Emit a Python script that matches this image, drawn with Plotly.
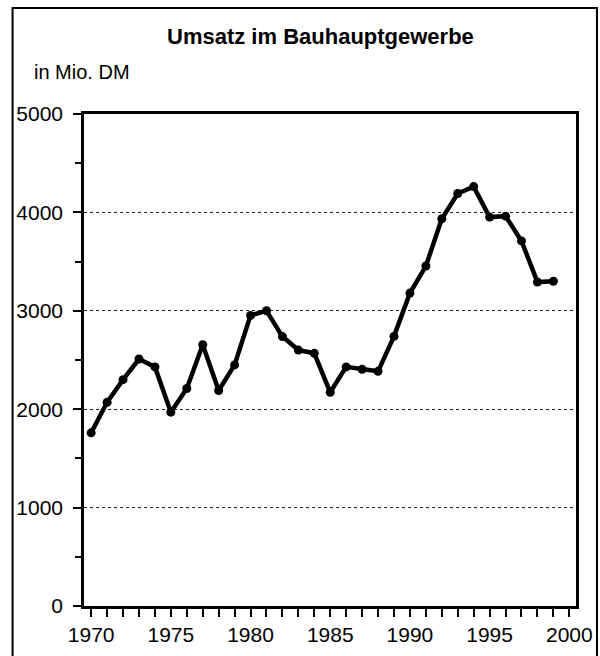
import plotly.graph_objects as go

years = list(range(1970, 2000))
umsatz = [1760, 2070, 2300, 2510, 2430, 1970, 2210, 2655, 2190, 2450,
          2953, 3000, 2738, 2601, 2568, 2172, 2430, 2405, 2385, 2740,
          3180, 3455, 3935, 4192, 4262, 3952, 3962, 3710, 3292, 3300]

title_text = "Umsatz im Bauhauptgewerbe"
unit_text = "in Mio. DM"
FONT = "Liberation Sans, Arial, sans-serif"

W, H = 600, 656
L, R, T, B = 83.5, 24, 114, 50
pw, ph = W - L - R, H - T - B

def px(xp):
    return (xp - L) / pw

def py(yp):
    return (H - B - yp) / ph

fig = go.Figure()
fig.add_trace(go.Scatter(
    x=years, y=umsatz, mode="lines+markers",
    line=dict(color="black", width=4.5),
    marker=dict(color="black", size=9),
    showlegend=False, hoverinfo="x+y",
))

fig.update_layout(
    width=W, height=H,
    margin=dict(l=L, r=R, t=T, b=B, autoexpand=False),
    paper_bgcolor="white", plot_bgcolor="white",
    font=dict(family=FONT, color="black", size=21),
    xaxis=dict(
        range=[1969.55, 2000.42], automargin=False,
        tickmode="linear", tick0=1970, dtick=5,
        ticks="outside", ticklen=8, tickwidth=2, tickcolor="black",
        minor=dict(dtick=1, tick0=1970, ticks="outside", ticklen=8, tickwidth=2, tickcolor="black", showgrid=False),
        showline=True, linecolor="black", linewidth=2.5, mirror=True,
        showgrid=False, zeroline=False,
        tickfont=dict(family=FONT, size=21, color="black"),
    ),
    yaxis=dict(
        range=[0, 5000], automargin=False,
        tickmode="linear", tick0=0, dtick=1000,
        ticks="outside", ticklen=8, tickwidth=2, tickcolor="black",
        minor=dict(dtick=500, tick0=0, ticks="outside", ticklen=6, tickwidth=2, tickcolor="black", showgrid=False),
        showline=True, linecolor="black", linewidth=2.5, mirror=True,
        showgrid=True, gridcolor="#222", griddash="dot", gridwidth=1,
        zeroline=False,
        tickfont=dict(family=FONT, size=21, color="black"),
        ticklabelstandoff=6,
    ),
    annotations=[
        dict(text="<b>" + title_text + "</b>", xref="paper", yref="paper",
             x=px(320.5), y=py(36), xanchor="center", yanchor="middle",
             showarrow=False, font=dict(family=FONT, size=22, color="black")),
        dict(text=unit_text, xref="paper", yref="paper",
             x=px(31), y=py(72), xanchor="left", yanchor="middle",
             showarrow=False, font=dict(family=FONT, size=20, color="black")),
    ],
    shapes=[
        dict(type="rect", xref="paper", yref="paper",
             x0=px(12), x1=px(597), y0=py(700), y1=py(8),
             line=dict(color="black", width=2), layer="above"),
    ],
)

fig.write_html("out.html", config={"displayModeBar": False},
               post_script="document.body.style.margin='0';document.body.style.overflow='hidden';")
